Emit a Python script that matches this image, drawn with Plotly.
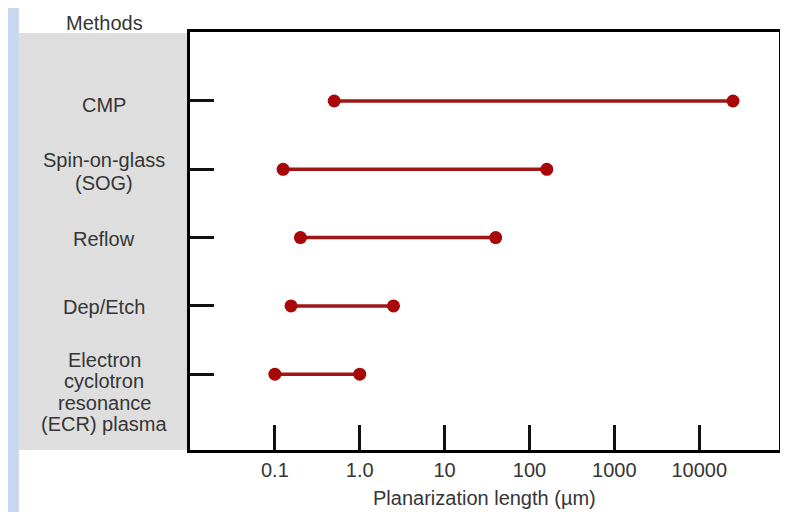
import plotly.graph_objects as go

methods = ["Electron<br>cyclotron<br>resonance<br>(ECR) plasma", "Dep/Etch", "Reflow",
           "Spin-on-glass<br>(SOG)", "CMP"]
low_vals = [0.1, 0.155, 0.2, 0.125, 0.5]
high_vals = [1.0, 2.5, 40, 160, 25000]
tick_vals = [0.1, 1, 10, 100, 1000, 10000]
tick_text = ["0.1", "1.0", "10", "100", "1000", "10000"]

# style: vertical pixel offsets of each label line relative to its row (screen px, + = down)
label_line_offsets = [[-15, 6, 28, 49], [0], [0], [-10, 13], [3]]

OFF = 8  # browser body margin
W, H = 780, 504
L, R, T, B = 182, 6, 24, 62
pw, ph = W - L - R, H - T - B

def px(xs):
    return (xs - OFF - L) / pw

def py(ys):
    return (H - B - (ys - OFF)) / ph

line_col = "#9e1616"
dot_col = "#a80808"
txt_col = "#353535"
FONT = "Liberation Sans, Arial, sans-serif"

fig = go.Figure()
for i, (lo, hi) in enumerate(zip(low_vals, high_vals)):
    fig.add_trace(go.Scatter(
        x=[lo, hi], y=[i, i], mode="lines+markers",
        line=dict(color=line_col, width=3.5),
        marker=dict(color=dot_col, size=13),
        showlegend=False, hoverinfo="skip"))

shapes = [
    dict(type="rect", xref="paper", yref="paper", x0=px(18), x1=px(800), y0=py(520), y1=py(8),
         fillcolor="white", line=dict(width=0), layer="below"),
    dict(type="rect", xref="paper", yref="paper", x0=px(18), x1=0, y0=0, y1=py(33),
         fillcolor="#dedede", line=dict(width=0), layer="below"),
]

annotations = [
    dict(text="Methods", xref="paper", yref="paper", x=px(104), y=py(23),
         showarrow=False, font=dict(size=20, color=txt_col, family=FONT),
         xanchor="center", yanchor="middle"),
    dict(text="Planarization length (µm)", xref="paper", yref="paper", x=px(486), y=py(498),
         showarrow=False, font=dict(size=20, color=txt_col, family=FONT),
         xanchor="center", yanchor="middle"),
]
for i, m in enumerate(methods):
    for k, part in enumerate(m.split("<br>")):
        annotations.append(dict(text=part, xref="paper", yref="y", x=px(104), y=i,
                                yshift=-label_line_offsets[i][k] - 1,
                                showarrow=False, align="center",
                                font=dict(size=20, color=txt_col, family=FONT),
                                xanchor="center", yanchor="middle"))

fig.update_layout(
    width=W, height=H,
    margin=dict(l=L, r=R, t=T, b=B),
    paper_bgcolor="#c8d6ef",
    plot_bgcolor="white",
    shapes=shapes,
    annotations=annotations,
    font=dict(family=FONT, color=txt_col),
)
fig.update_xaxes(type="log", range=[-2, 4.94], tickvals=tick_vals, ticktext=tick_text,
                 ticks="inside", ticklen=25, tickwidth=2.5, tickcolor="#111",
                 showline=True, linecolor="black", linewidth=3, mirror=True,
                 showgrid=False, zeroline=False, tickfont=dict(size=20, color=txt_col, family=FONT))
fig.update_yaxes(range=[-1.11, 5.01], tickvals=list(range(len(methods))), showticklabels=False,
                 ticks="inside", ticklen=24, tickwidth=2.5, tickcolor="#111",
                 showline=True, linecolor="black", linewidth=3, mirror=True,
                 showgrid=False, zeroline=False)

fig.write_html("out.html")
